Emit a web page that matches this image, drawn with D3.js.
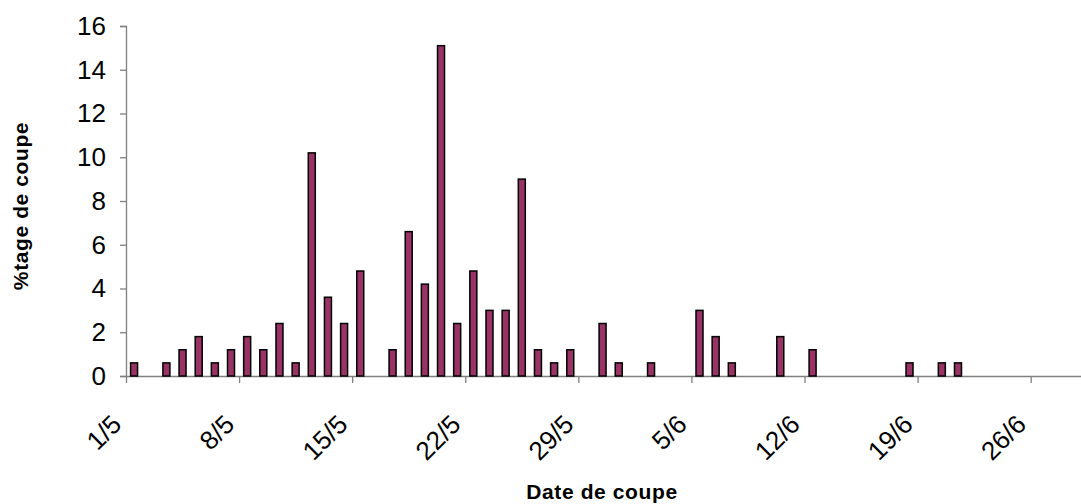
<!DOCTYPE html>
<html>
<head>
<meta charset="utf-8">
<script src="https://cdn.jsdelivr.net/npm/d3@7"></script>
<style>
  body { margin: 0; background: #fff; }
  text { font-family: "Liberation Sans", Arial, sans-serif; }
</style>
</head>
<body>
<svg id="canvas" width="1081" height="504"></svg>
<script>
// cut dates (day/month) and % of cuts on each date
const cutDates = ["1/5","3/5","4/5","5/5","6/5","7/5","8/5","9/5","10/5","11/5",
  "12/5","13/5","14/5","15/5","17/5","18/5","19/5","20/5","21/5","22/5",
  "23/5","24/5","25/5","26/5","27/5","28/5","30/5","31/5","2/6","5/6",
  "6/6","7/6","10/6","12/6","18/6","20/6","21/6"]
const cutValues = [0.6,0.6,1.2,1.8,0.6,1.2,1.8,1.2,2.4,0.6,
  10.2,3.6,2.4,4.8,1.2,6.6,4.2,15.1,2.4,4.8,
  3.0,3.0,9.0,1.2,0.6,1.2,2.4,0.6,0.6,3.0,
  1.8,0.6,1.8,1.2,0.6,0.6,0.6]
const xTickLabels = ["1/5","8/5","15/5","22/5","29/5","5/6","12/6","19/6","26/6"]
const yTicks = [0,2,4,6,8,10,12,14,16]

const parseDay = s => {
  const [d, m] = s.split("/").map(Number)
  return new Date(2007, m - 1, d)
}

const svg = d3.select("#canvas")
const plotLeft = 126, plotTop = 26, plotBottom = 376
const dayW = 16.155

const start = parseDay("1/5")
const end = d3.timeDay.offset(start, 64)
const x = d3.scaleTime()
  .domain([start, end])
  .range([plotLeft, plotLeft + 64 * dayW])
const y = d3.scaleLinear().domain([0, 16]).range([plotBottom, plotTop])

const axisCol = "#808080"

// y axis
const yAxis = svg.append("g")
  .attr("transform", `translate(${plotLeft},0)`)
  .call(d3.axisLeft(y).tickValues(yTicks).tickSize(6).tickPadding(14).tickFormat(d3.format("d")))
yAxis.select(".domain").attr("stroke", axisCol).attr("stroke-width", 1.3)
yAxis.selectAll(".tick line").attr("stroke", axisCol).attr("stroke-width", 1.3)
yAxis.selectAll(".tick text").attr("font-size", 26).attr("fill", "#000")
  .attr("font-family", "Liberation Sans, Arial, sans-serif")

// x axis
const xAxis = svg.append("g")
  .attr("transform", `translate(0,${plotBottom})`)
  .call(d3.axisBottom(x).tickValues(xTickLabels.map(parseDay)).tickSize(7).tickSizeOuter(0).tickFormat(""))
xAxis.select(".domain").attr("stroke", axisCol).attr("stroke-width", 1.3)
xAxis.selectAll(".tick line").attr("stroke", axisCol).attr("stroke-width", 1.3)

svg.append("g").selectAll("text")
  .data(xTickLabels)
  .enter()
  .append("text")
  .attr("transform", d => `translate(${x(parseDay(d)) - 3},${plotBottom + 50}) rotate(-45)`)
  .attr("text-anchor", "end")
  .attr("font-size", 26)
  .text(d => d)

// bars
const barW = 7
svg.append("g").selectAll("rect")
  .data(cutDates.map((d, i) => ({date: parseDay(d), value: cutValues[i]})))
  .enter()
  .append("rect")
  .attr("x", d => x(d.date) + (dayW - barW) / 2)
  .attr("y", d => y(d.value))
  .attr("width", barW)
  .attr("height", d => y(0) - y(d.value))
  .attr("fill", "#993366")
  .attr("stroke", "#000")
  .attr("stroke-width", 1.5)

// axis titles
svg.append("text")
  .attr("x", 602).attr("y", 499)
  .attr("text-anchor", "middle")
  .attr("font-size", 21).attr("font-weight", "bold")
  .attr("letter-spacing", 0.6)
  .text("Date de coupe")

svg.append("text")
  .attr("transform", "translate(27.5,206) rotate(-90)")
  .attr("text-anchor", "middle")
  .attr("font-size", 21).attr("font-weight", "bold")
  .attr("letter-spacing", 0.6)
  .text("%tage de coupe")
</script>
</body>
</html>
